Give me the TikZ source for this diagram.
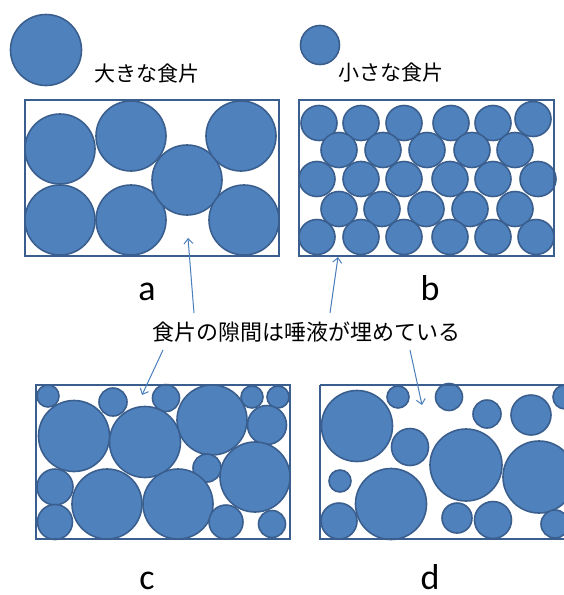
\documentclass[tikz,border=0pt]{standalone}
\usepackage{fontspec}
\newfontfamily\cjk{Noto Sans CJK JP}
\newfontfamily\labfont{Carlito}
\usetikzlibrary{arrows.meta}
\definecolor{bfill}{HTML}{4F81BD}
\definecolor{bline}{HTML}{3A5F8E}
\definecolor{arr}{HTML}{4A7EBB}
\begin{document}
\begin{tikzpicture}[x=1pt,y=-1pt,
  blob/.style={fill=bfill,draw=bline,line width=1.6pt},
  frame/.style={draw=bline,line width=1.8pt},
  conn/.style={draw=arr,line width=1pt,-{Straight Barb[length=5pt,width=9pt]}},
  letter/.style={inner sep=0pt,anchor=base,font=\labfont\fontsize{36pt}{40pt}\selectfont},
  jtext/.style={inner sep=0pt,font=\cjk\fontsize{21pt}{24pt}\selectfont}]
\useasboundingbox (0,0) rectangle (564,595);
\clip (0,0) rectangle (564,595);
% legend
\draw[blob] (46,50) circle (35.5pt);
\node[jtext,anchor=west] (big) at (94,73.5) {大きな食片};
\draw[blob] (320,45) circle (19.5pt);
\node[jtext,anchor=west] (small) at (338,73) {小さな食片};
% panel a
\foreach \x/\y in {60/149,60/220,131/136,131/220,187/180,241/136,244/220}
  \draw[blob] (\x,\y) circle (35pt);
\draw[frame] (25,100) rectangle (279,256);
% panel b
\foreach \x/\y in {319/123,361/123,404/123,451/123,493/123,533/119,
  339/150,383/150,427/150,472/150,515/150,
  317/179,361/179,404/179,450/179,493/179,538/179,
  339/209,382/209,426/209,470/209,515/209,
  317/237,361/237,404/237,450/237,493/237,536/237}
  \draw[blob] (\x,\y) circle [x radius=18pt, y radius=17.5pt];
\draw[frame] (299,100) rectangle (554,256);
% panel c
\foreach \x/\y/\r in {48/396/11,113/402/14,166/398/13.5,212/420/35,252/397/11,278/397/11,
  267/425/19.5,74/436/35.5,145/442/35.5,207/468/14,255/477/35,55/487/18,55/522/17.5,
  107/504/35,178/504/35,226/522/17,272/524/13.5}
  \draw[blob] (\x,\y) circle (\r pt);
\draw[frame] (36,385) rectangle (290,539);
% panel d
\foreach \x/\y/\r in {357/426/35.5,398/397/11,449/397/13.5,487/414/14,531/415/20,565/397/12,
  410/447/18.5,466/465/36,539/477/36,340/481/11,391/504/35.5,339/521/18,
  457/518/15,493/520/18.5,555/524/14}
  \draw[blob] (\x,\y) circle (\r pt);
\draw[frame] (320,385) -- (580,385);
\draw[frame] (580,539) -- (320,539) -- (320,385);
% labels
\node[letter] (la) at (147,300) {a};
\node[letter] (lb) at (430,300) {b};
\node[letter] (lc) at (147,589) {c};
\node[letter] (ld) at (430,589) {d};
% caption and arrows
\node[jtext,font=\cjk\fontsize{22pt}{25pt}\selectfont] (cap) at (306.5,332) {食片の隙間は唾液が埋めている};
\coordinate (s1) at (194,313); \coordinate (t1) at (188,238);
\coordinate (s2) at (330,313); \coordinate (t2) at (338,257);
\coordinate (s3) at (163,350); \coordinate (t3) at (142,395);
\coordinate (s4) at (410,350); \coordinate (t4) at (422,405);
\draw[conn] (s1) -- (t1);
\draw[conn] (s2) -- (t2);
\draw[conn] (s3) -- (t3);
\draw[conn] (s4) -- (t4);
\end{tikzpicture}
\end{document}
